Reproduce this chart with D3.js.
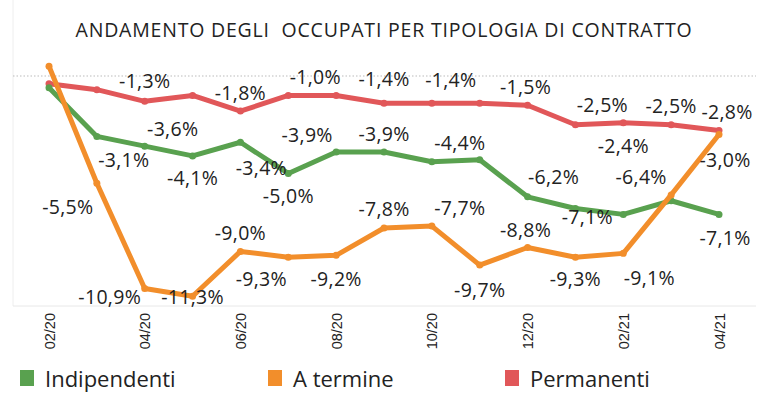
<!DOCTYPE html>
<html>
<head>
<meta charset="utf-8">
<script src="https://cdn.jsdelivr.net/npm/d3@7"></script>
<style>
  body { margin: 0; background: #fff; }
  svg { font-family: "Open Sans", sans-serif; }
  .title { font-size: 19.5px; fill: #222; letter-spacing: 0.8px; }
  .lbl { font-size: 19.5px; fill: #222; letter-spacing: 0.3px; }
  .x-axis text { font-size: 14.5px; fill: #222; }
  .legend text { font-size: 22px; fill: #222; }
</style>
</head>
<body>
<svg id="chart"></svg>
<script>
// mesi (asse x)
const months = ["02/20", "03/20", "04/20", "05/20", "06/20", "07/20", "08/20", "09/20",
    "10/20", "11/20", "12/20", "01/21", "02/21", "03/21", "04/21"];
const tickMonths = ["02/20", "04/20", "06/20", "08/20", "10/20", "12/20", "02/21", "04/21"];

// variazione % rispetto a febbraio 2020
const indipendenti = [-0.6, -3.1, -3.6, -4.1, -3.4, -5.0, -3.9, -3.9, -4.4, -4.3, -6.2, -6.8, -7.1, -6.4, -7.1];
const aTermine = [0.5, -5.5, -10.9, -11.3, -9.0, -9.3, -9.2, -7.8, -7.7, -9.7, -8.8, -9.3, -9.1, -6.1, -3.0];
const permanenti = [-0.4, -0.7, -1.3, -1.0, -1.8, -1.0, -1.0, -1.4, -1.4, -1.4, -1.5, -2.5, -2.4, -2.5, -2.8];

const seriesNames = ["Indipendenti", "A termine", "Permanenti"];

// posizione delle etichette rispetto al punto (null = nessuna etichetta)
const labelOffsets = {
    "Indipendenti": [null, [27, 23], [28, -18], [0, 22], [21, 25], [0, 22], [-29, -18], [0, -19],
        [28, -19], null, [26, -20], null, [-36, 2], [-30, -24], [6, 23]],
    "A termine": [null, [-29, 23], [-35, 8], [0, 0], [0, -19], [-27, 21], [0, 23], [0, -20],
        [28, -19], [0, 24], [-2, -18], [0, 21], [26, 24], null, [6, 25]],
    "Permanenti": [null, null, [0, -21], null, [0, -19], [27, -19], null, [0, -25],
        [19, -24], null, [-2, -19], [27, -20], [0, 23], [0, -19], [8, -19]],
};

const colors = { "Indipendenti": "#59a14f", "A termine": "#f28e2b", "Permanenti": "#e15759" };

const chartSettings = {
    width: 768,
    height: 400,
    left: 49,
    right: 719,
    top: 76,
    bottom: 306,
};

const series = [
    { name: "Permanenti", values: permanenti },
    { name: "Indipendenti", values: indipendenti },
    { name: "A termine", values: aTermine },
];

const svg = d3.select("#chart")
    .attr("width", chartSettings.width)
    .attr("height", chartSettings.height);

svg.append("text")
    .attr("class", "title")
    .attr("x", 384)
    .attr("y", 37)
    .attr("text-anchor", "middle")
    .attr("xml:space", "preserve")
    .style("white-space", "pre")
    .text("ANDAMENTO DEGLI  OCCUPATI PER TIPOLOGIA DI CONTRATTO");

const x = d3.scalePoint().domain(months).range([chartSettings.left, chartSettings.right]);
const y = d3.scaleLinear().domain([-11.8, 0]).range([chartSettings.bottom, chartSettings.top]);

// cornice leggera
svg.append("line")
    .attr("x1", 13).attr("x2", 13)
    .attr("y1", 0).attr("y2", chartSettings.bottom)
    .attr("stroke", "#eeeeee");
svg.append("line")
    .attr("x1", 13).attr("x2", 756)
    .attr("y1", chartSettings.bottom).attr("y2", chartSettings.bottom)
    .attr("stroke", "#e8e8e8");

// linea dello zero tratteggiata
svg.append("line")
    .attr("x1", 13).attr("x2", 756)
    .attr("y1", y(0)).attr("y2", y(0))
    .attr("stroke", "#bbbbbb")
    .attr("stroke-dasharray", "1.5,2");

// asse x con etichette ruotate
const xAxis = svg.append("g")
    .attr("class", "x-axis")
    .attr("transform", `translate(0,${chartSettings.bottom})`)
    .call(d3.axisBottom(x).tickValues(tickMonths).tickSize(0));
xAxis.select(".domain").remove();
xAxis.selectAll("text")
    .attr("transform", "rotate(-90)")
    .attr("text-anchor", "end")
    .attr("dy", "0.35em")
    .attr("x", -7)
    .attr("y", 0);

const line = d3.line()
    .x((d, i) => x(months[i]))
    .y(d => y(d));

const lineGroup = svg.append("g");
series.forEach(s => {
    lineGroup.append("path")
        .datum(s.values)
        .attr("fill", "none")
        .attr("stroke", colors[s.name])
        .attr("stroke-width", 5)
        .attr("stroke-linejoin", "round")
        .attr("stroke-linecap", "round")
        .attr("d", line);

    lineGroup.selectAll(null)
        .data(s.values)
        .enter()
        .append("circle")
        .attr("cx", (d, i) => x(months[i]))
        .attr("cy", d => y(d))
        .attr("r", 3.5)
        .attr("fill", colors[s.name]);
});

// etichette dei valori
const fmt = v => d3.format(".1f")(v).replace("−", "-").replace(".", ",") + "%";
const labelGroup = svg.append("g");
series.forEach(s => {
    const offs = labelOffsets[s.name];
    s.values.forEach((v, i) => {
        if (!offs[i]) return;
        labelGroup.append("text")
            .attr("class", "lbl")
            .attr("x", x(months[i]) + offs[i][0])
            .attr("y", y(v) + offs[i][1])
            .attr("text-anchor", "middle")
            .attr("dominant-baseline", "central")
            .text(fmt(v));
    });
});

// legenda
const legendX = [20, 268, 505];
const legend = svg.append("g").attr("class", "legend");
seriesNames.forEach((name, i) => {
    const g = legend.append("g").attr("transform", `translate(${legendX[i]},370)`);
    g.append("rect")
        .attr("width", 14)
        .attr("height", 16)
        .attr("fill", colors[name]);
    g.append("text")
        .attr("x", 25)
        .attr("y", 8)
        .attr("dominant-baseline", "central")
        .text(name);
});
</script>
</body>
</html>
